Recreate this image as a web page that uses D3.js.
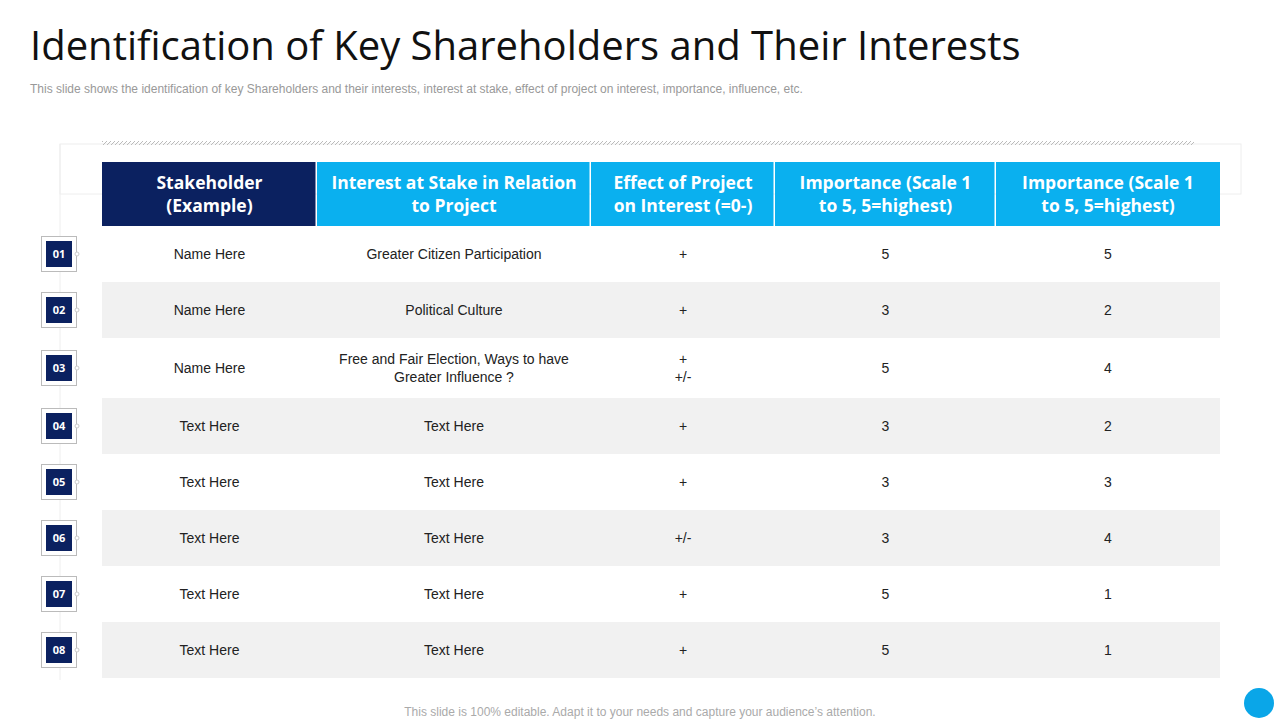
<!DOCTYPE html>
<html><head><meta charset="utf-8">
<script src="https://cdn.jsdelivr.net/npm/d3@7"></script>
<style>body{margin:0;background:#fff}svg{display:block}</style></head>
<body><svg id="c" width="1280" height="720"></svg>
<script>
const headers=[["Stakeholder","(Example)"],["Interest at Stake in Relation","to Project"],["Effect of Project","on Interest (=0-)"],["Importance (Scale 1","to 5, 5=highest)"],["Importance (Scale 1","to 5, 5=highest)"]];
const stakeholders=["Name Here","Name Here","Name Here","Text Here","Text Here","Text Here","Text Here","Text Here"];
const interests=[["Greater Citizen Participation"],["Political Culture"],["Free and Fair Election, Ways to have","Greater Influence ?"],["Text Here"],["Text Here"],["Text Here"],["Text Here"],["Text Here"]];
const effects=[["+"],["+"],["+","+/-"],["+"],["+"],["+/-"],["+"],["+"]];
const importanceA=[5,3,5,3,3,3,5,5];
const importanceB=[5,2,4,2,3,4,1,1];
const rowUnits=[56,56,60,56,56,56,56,56];
const colUnits=[215,274,184,221,224];

const svg=d3.select("#c");
const F="'Liberation Sans',Arial,sans-serif";
svg.append("text").attr("x",30).attr("y",60).attr("font-family","'Open Sans',sans-serif").attr("font-size",40).attr("fill","#111").text("Identification of Key Shareholders and Their Interests");
svg.append("text").attr("x",30).attr("y",93).attr("font-family",F).attr("font-size",12).attr("fill","#999").text("This slide shows the identification of key Shareholders  and their interests, interest at stake, effect of project on interest, importance, influence, etc.");
svg.append("text").attr("x",640).attr("y",716).attr("text-anchor","middle").attr("font-family",F).attr("font-size",12).attr("fill","#aaa").text("This slide is 100% editable. Adapt it to your needs and capture your audience’s attention.");
svg.append("circle").attr("cx",1259).attr("cy",703).attr("r",15).attr("fill","#0aa6e8");

// decorative frame
svg.append("rect").attr("x",60).attr("y",144).attr("width",1181).attr("height",50).attr("fill","none").attr("stroke","#eee");
svg.append("line").attr("x1",60).attr("x2",60).attr("y1",144).attr("y2",680).attr("stroke","#eee");
const pat=svg.append("defs").append("pattern").attr("id","h").attr("width",4).attr("height",4).attr("patternUnits","userSpaceOnUse");
pat.append("path").attr("d","M0,4L4,0").attr("stroke","#bbb").attr("stroke-width",1);
svg.append("rect").attr("x",102).attr("y",141).attr("width",1092).attr("height",4).attr("fill","url(#h)");
svg.append("rect").attr("x",102).attr("y",145).attr("width",1138).attr("height",17).attr("fill","#fff");

const colEdges=[0,...d3.cumsum(colUnits)];
const x=d3.scaleLinear().domain([0,d3.sum(colUnits)]).range([102,1220]);
const rowEdges=[0,...d3.cumsum(rowUnits)];
const y=d3.scaleLinear().domain([0,d3.sum(rowUnits)]).range([226,678]);

// header
headers.forEach((h,i)=>{
  const x0=x(colEdges[i]),x1=x(colEdges[i+1]);
  svg.append("rect").attr("x",x0).attr("y",162).attr("width",x1-x0-(i<4?1.5:0)).attr("height",64).attr("fill",i==0?"#0b2160":"#0ab0ef");
  const t=svg.append("text").attr("x",(x0+x1)/2).attr("y",189).attr("text-anchor","middle").attr("font-family","'Open Sans',sans-serif").attr("font-weight","bold").attr("font-size",17.5).attr("fill","#fff");
  h.forEach((l,j)=>t.append("tspan").attr("x",(x0+x1)/2).attr("dy",j?23:0).text(l));
});

stakeholders.forEach((s,r)=>{
  const y0=y(rowEdges[r]),y1=y(rowEdges[r+1]),cy=(y0+y1)/2;
  if(r%2==1) svg.append("rect").attr("x",102).attr("y",y0).attr("width",1118).attr("height",y1-y0).attr("fill","#f1f1f1");
  const cells=[[s],interests[r],effects[r],[importanceA[r]],[importanceB[r]]];
  cells.forEach((c,i)=>{
    const cx=(x(colEdges[i])+x(colEdges[i+1]))/2;
    const t=svg.append("text").attr("x",cx).attr("y",cy+5-(c.length-1)*9).attr("text-anchor","middle").attr("font-family",F).attr("font-size",14).attr("fill","#222");
    c.forEach((l,j)=>t.append("tspan").attr("x",cx).attr("dy",j?18:0).text(l));
  });
  // badge
  svg.append("rect").attr("x",41.5).attr("y",cy-17.5).attr("width",35).attr("height",35).attr("fill","#fff").attr("stroke","#bbb");
  svg.append("rect").attr("x",46).attr("y",cy-13).attr("width",26).attr("height",26).attr("fill","#0b2160");
  svg.append("circle").attr("cx",77).attr("cy",cy).attr("r",2).attr("fill","#fff").attr("stroke","#ccc");
  svg.append("text").attr("x",59).attr("y",cy+4).attr("text-anchor","middle").attr("font-family","'Open Sans',sans-serif").attr("font-weight","bold").attr("font-size",11).attr("fill","#fff").text(String(r+1).padStart(2,"0"));
});
</script></body></html>
